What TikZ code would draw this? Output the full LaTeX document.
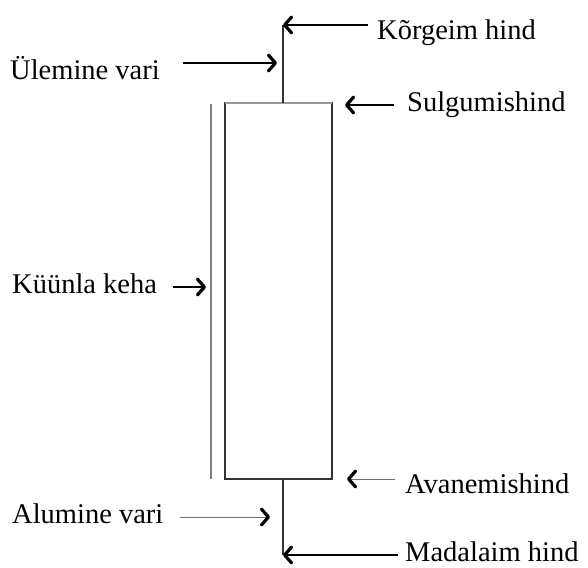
\documentclass[tikz,border=0pt]{standalone}
\usepackage{fontspec}
\setmainfont{Liberation Serif}
\usetikzlibrary{arrows.meta}
\begin{document}
\begin{tikzpicture}[x=1pt,y=-1pt,
  lbl/.style={anchor=base west,inner sep=0pt,font=\fontsize{28.5}{33}\selectfont},
  tipstyle/.tip={Straight Barb[length=7pt,width=16pt,line width=3.2pt 0,round]},
  arr/.style={line width=1.5pt,-tipstyle},
  thinarr/.style={line width=0.8pt,draw=black!55,-{tipstyle[color=black]}},
  body/.style={draw=black!80,line width=1.8pt},
  wick/.style={draw=black!80,line width=1.8pt}]
\useasboundingbox (0,0) rectangle (588,567);
% candle body
\node[body,minimum width=107pt,minimum height=376pt,inner sep=0pt,outer sep=0pt] (box) at (278.5,291) {};
\draw[draw=black!40,line width=1.8pt] (box.north west) -- (box.north east);
\coordinate (high) at (283,25);
\coordinate (low) at (283,555);
\draw[wick] (box.north west -| high) -- (high);
\draw[wick] (box.south west -| low) -- (low);
% bracket line
\coordinate (bt) at (211,104);
\coordinate (bb) at (211,479);
\draw[draw=black!50,line width=1.2pt] (bt) -- (bb);
% labels
\node[lbl] (korg) at (377,40) {Kõrgeim hind};
\node[lbl] (ulem) at (10,80) {Ülemine vari};
\node[lbl] (sulg) at (407,111) {Sulgumishind};
\node[lbl] (keha) at (12,293) {Küünla keha};
\node[lbl] (alum) at (12,523) {Alumine vari};
\node[lbl] (avan) at (405,493) {Avanemishind};
\node[lbl] (mada) at (405,561) {Madalaim hind};
% arrow coordinates
\coordinate (korgT) at (368,25);
\coordinate (ulemT) at (183,63);
\coordinate (ulemH) at (277,63);
\coordinate (sulgT) at (394,105);
\coordinate (sulgH) at (345,105);
\coordinate (kehaT) at (173,287);
\coordinate (kehaH) at (206,287);
\coordinate (alumT) at (180,517);
\coordinate (alumH) at (270,517);
\coordinate (avanT) at (395,479);
\coordinate (avanH) at (347,479);
\coordinate (madaT) at (398,555);
% arrows
\draw[arr] (korgT) -- (high);
\draw[arr] (ulemT) -- (ulemH);
\draw[arr] (sulgT) -- (sulgH);
\draw[arr] (kehaT) -- (kehaH);
\draw[thinarr] (alumT) -- (alumH);
\draw[thinarr] (avanT) -- (avanH);
\draw[arr] (madaT) -- (low);
\end{tikzpicture}
\end{document}
